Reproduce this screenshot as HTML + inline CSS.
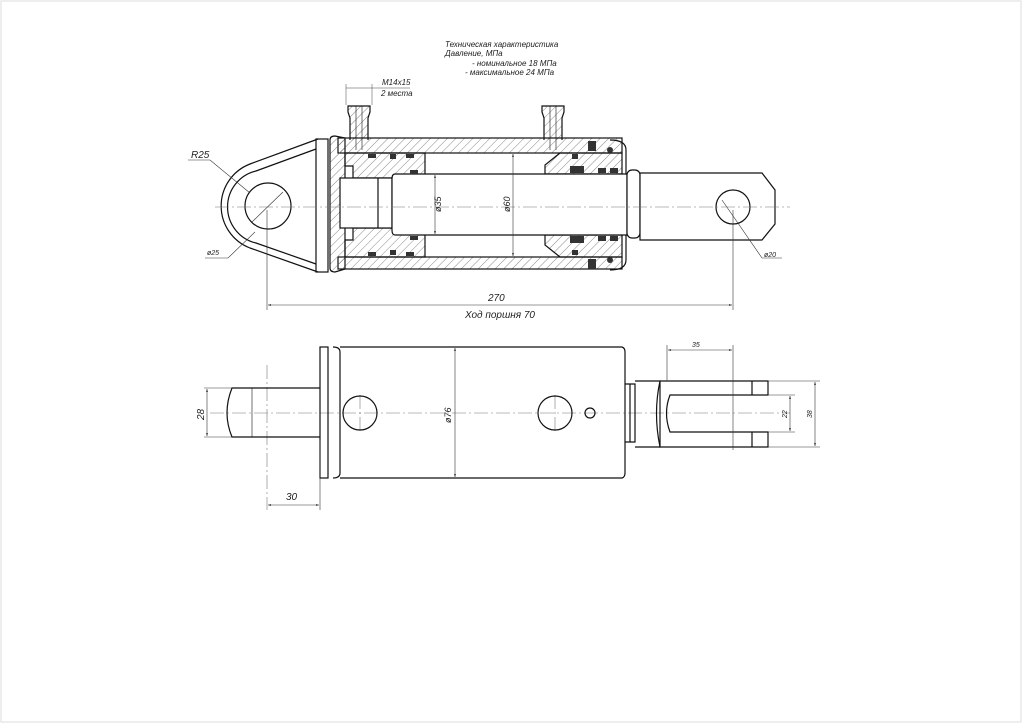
<!DOCTYPE html>
<html><head><meta charset="utf-8"><style>
html,body{margin:0;padding:0;background:#fff;}
svg{display:block;}
text{font-family:"Liberation Sans",sans-serif;font-style:italic;fill:#222;}
</style></head><body>
<svg width="1024" height="724" viewBox="0 0 1024 724" xmlns="http://www.w3.org/2000/svg">
<defs>
<pattern id="h" width="6" height="6" patternUnits="userSpaceOnUse" patternTransform="rotate(45)">
<line x1="0" y1="0" x2="0" y2="6" stroke="#555" stroke-width="0.7"/>
</pattern>
<marker id="a" viewBox="0 0 10 10" refX="10" refY="5" markerWidth="7" markerHeight="5" orient="auto-start-reverse">
<path d="M0,2 L10,5 L0,8z" fill="#222"/></marker>
</defs>
<rect x="1" y="1" width="1020" height="721" fill="none" stroke="#ddd" stroke-width="1"/>

<g font-size="8">
<text x="445" y="47">Техническая характеристика</text>
<text x="445" y="56">Давление, МПа</text>
<text x="472" y="66">- номинальное    18 МПа</text>
<text x="465" y="75">- максимальное  24 МПа</text>
<text x="382" y="85">М14х15</text>
<text x="381" y="96">2 места</text>
</g>
<line x1="346" y1="88" x2="410" y2="88" stroke="#444" stroke-width="0.6"/>
<line x1="346" y1="84" x2="346" y2="105" stroke="#444" stroke-width="0.5"/>
<line x1="372" y1="84" x2="372" y2="105" stroke="#444" stroke-width="0.5"/>

<g stroke="#111" stroke-width="1.2" fill="none">
<path d="M350,140 V118 L348,112 V106 H370 V112 L368,118 V140" fill="url(#h)"/>
<path d="M544,140 V118 L542,112 V106 H564 V112 L562,118 V140" fill="url(#h)"/>
<line x1="356" y1="106" x2="356" y2="150" stroke-width="0.6"/>
<line x1="362" y1="106" x2="362" y2="150" stroke-width="0.6"/>
<line x1="550" y1="106" x2="550" y2="150" stroke-width="0.6"/>
<line x1="556" y1="106" x2="556" y2="150" stroke-width="0.6"/>

<rect x="338" y="138" width="284" height="15" fill="url(#h)"/>
<rect x="338" y="257" width="284" height="12" fill="url(#h)"/>
<path d="M330,140 Q330,136 335,136 L345,138 V269 L335,272 Q330,272 330,268 Z" fill="url(#h)"/>
<path d="M345,153 H425 V257 H345 V240 H353 V228 H392 V178 H353 V166 H345 Z" fill="url(#h)"/>
<rect x="340" y="178" width="52" height="50" fill="#fff"/>
<line x1="378" y1="178" x2="378" y2="228"/>
<path d="M560,153 H622 V174 H545 V165 Z" fill="url(#h)"/>
<path d="M545,235 H622 V257 H560 L545,245 Z" fill="url(#h)"/>
<path d="M610,140 Q626,140 626,150 V260 Q626,270 610,270"/>
<path d="M395,174 H627 V235 H395 Q392,235 392,230 V179 Q392,174 395,174 Z" fill="#fff"/>
<rect x="627" y="170" width="13" height="68" rx="5" fill="#fff"/>
<path d="M640,173 H762 L775,190 V224 L762,240 H640 Z" fill="#fff"/>
<circle cx="733" cy="207" r="17"/>
<!-- left eye bracket -->
<path d="M318,139 L250,164 A45,45 0 0 0 250,248 L318,272"/>
<path d="M316,149 L256,171 A37,37 0 0 0 256,243 L316,264"/>
<rect x="316" y="139" width="12" height="133"/>
<circle cx="268" cy="206" r="23"/>
</g>
<g fill="#333">
<rect x="368" y="154" width="8" height="4"/><rect x="390" y="154" width="6" height="5"/><rect x="406" y="154" width="8" height="4"/>
<rect x="368" y="252" width="8" height="4"/><rect x="390" y="250" width="6" height="5"/><rect x="406" y="252" width="8" height="4"/>
<rect x="410" y="170" width="8" height="4"/><rect x="410" y="236" width="8" height="4"/>
<rect x="572" y="154" width="6" height="5"/><rect x="572" y="250" width="6" height="5"/>
<rect x="570" y="166" width="14" height="7"/><rect x="570" y="236" width="14" height="7"/>
<rect x="598" y="168" width="8" height="5"/><rect x="598" y="236" width="8" height="5"/>
<rect x="610" y="168" width="8" height="5"/><rect x="610" y="236" width="8" height="5"/>
<rect x="588" y="141" width="8" height="10"/><rect x="588" y="259" width="8" height="10"/>
<circle cx="610" cy="150" r="3"/><circle cx="610" cy="260" r="3"/>
</g>
<g stroke="#777" stroke-width="0.6" stroke-dasharray="14,3,2,3">
<line x1="215" y1="207" x2="790" y2="207"/>
<line x1="210" y1="413" x2="790" y2="413"/>
<line x1="360" y1="395" x2="360" y2="432"/><line x1="555" y1="395" x2="555" y2="432"/>
<line x1="267" y1="365" x2="267" y2="510"/>
</g>
<g stroke="#333" stroke-width="0.6" fill="none">
<line x1="267" y1="210" x2="267" y2="310"/><line x1="733" y1="210" x2="733" y2="310"/>
<line x1="268" y1="305" x2="732" y2="305" marker-start="url(#a)" marker-end="url(#a)"/>
<line x1="435" y1="175" x2="435" y2="234" marker-start="url(#a)" marker-end="url(#a)"/>
<line x1="513" y1="154" x2="513" y2="256" marker-start="url(#a)" marker-end="url(#a)"/>
<path d="M188,160 H210 L250,193"/><line x1="252" y1="222" x2="283" y2="192"/>
<path d="M205,258 H228 L255,232"/>
<path d="M782,258 H762 L722,200"/>
</g>
<g font-size="10">
<text x="191" y="158">R25</text>
<text x="207" y="255" font-size="7">ø25</text>
<text x="764" y="257" font-size="7">ø20</text>
<text x="488" y="301">270</text>
<text x="465" y="318">Ход поршня 70</text>
<text transform="translate(441,212) rotate(-90)" font-size="9">ø35</text>
<text transform="translate(510,212) rotate(-90)" font-size="9">ø60</text>
</g>

<g stroke="#111" stroke-width="1.2" fill="none">
<path d="M320,388 H232 Q222,413 232,437 H320"/>
<line x1="252" y1="388" x2="252" y2="437" stroke-width="0.6"/>
<rect x="320" y="347" width="8" height="131"/>
<path d="M333,347 Q340,347 340,352 V473 Q340,478 333,478"/>
<path d="M340,347 H622 Q625,348 625,352 V473 Q625,477 622,478 H340"/>
<circle cx="360" cy="413" r="17"/>
<circle cx="555" cy="413" r="17"/>
<circle cx="590" cy="413" r="5"/>
<path d="M625,384 H635 V442 H625"/>
<line x1="630" y1="384" x2="630" y2="442"/>
<path d="M635,381 H660 V447 H635"/>
<path d="M660,381 H768 V395 H670 Q663,413 670,432 H768 V447 H660 Q653,413 660,381"/>
<line x1="752" y1="381" x2="752" y2="395"/><line x1="752" y1="432" x2="752" y2="447"/>
</g>
<g stroke="#333" stroke-width="0.6" fill="none">
<line x1="204" y1="388" x2="232" y2="388"/><line x1="204" y1="437" x2="232" y2="437"/>
<line x1="207" y1="389" x2="207" y2="436" marker-start="url(#a)" marker-end="url(#a)"/>
<line x1="320" y1="440" x2="320" y2="510"/>
<line x1="268" y1="505" x2="319" y2="505" marker-start="url(#a)" marker-end="url(#a)"/>
<line x1="455" y1="348" x2="455" y2="477" marker-start="url(#a)" marker-end="url(#a)"/>
<line x1="667" y1="345" x2="667" y2="381"/><line x1="733" y1="345" x2="733" y2="450"/>
<line x1="668" y1="350" x2="732" y2="350" marker-start="url(#a)" marker-end="url(#a)"/>
<line x1="768" y1="395" x2="795" y2="395"/><line x1="768" y1="432" x2="795" y2="432"/>
<line x1="768" y1="381" x2="820" y2="381"/><line x1="768" y1="447" x2="820" y2="447"/>
<line x1="790" y1="396" x2="790" y2="431" marker-start="url(#a)" marker-end="url(#a)"/>
<line x1="815" y1="382" x2="815" y2="446" marker-start="url(#a)" marker-end="url(#a)"/>
</g>
<g font-size="10">
<text transform="translate(204,420) rotate(-90)">28</text>
<text x="286" y="500">30</text>
<text transform="translate(451,423) rotate(-90)" font-size="9">ø76</text>
<text x="692" y="347" font-size="7">35</text>
<text transform="translate(787,418) rotate(-90)" font-size="7">22</text>
<text transform="translate(812,418) rotate(-90)" font-size="7">38</text>
</g>
</svg>
</body></html>
